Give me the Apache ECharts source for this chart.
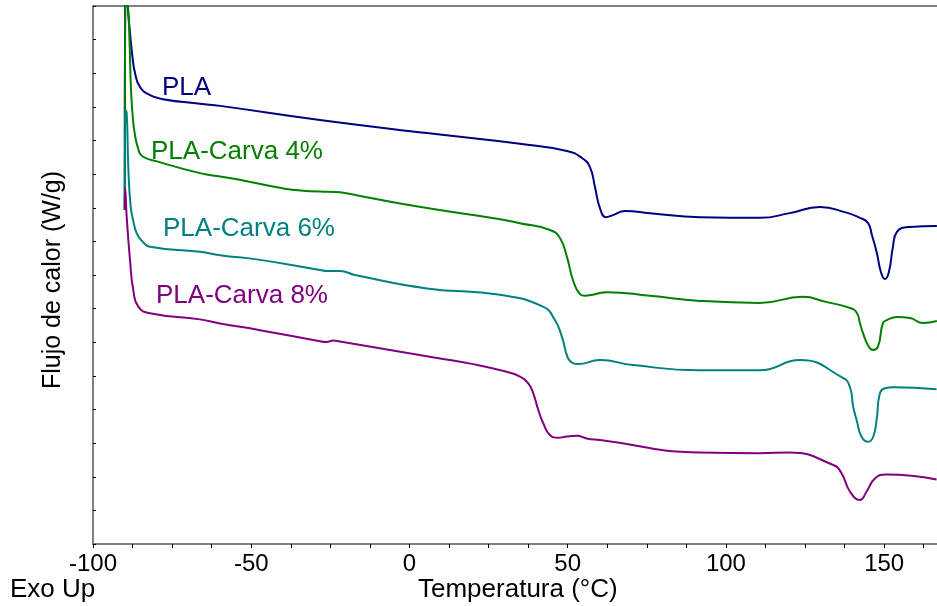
<!DOCTYPE html>
<html>
<head>
<meta charset="utf-8">
<script src="https://cdn.jsdelivr.net/npm/echarts@6/dist/echarts.min.js"></script>
<style>
html,body{margin:0;padding:0;background:#fff;}
#c{width:937px;height:606px;}
</style>
</head>
<body>
<div id="c"></div>
<script>
// Temperature (°C) vs heat flow (arbitrary offset units, W/g)
const seriesNames = ['PLA', 'PLA-Carva 4%', 'PLA-Carva 6%', 'PLA-Carva 8%'];
const seriesColors = ['#000080', '#008000', '#008080', '#800080'];

const plaData = [
  [-89.95, 9.93], [-89.80, 17.0], [-88.94, 15.88], [-88.31, 15.20], [-87.52, 14.48],
  [-86.73, 14.01], [-85.15, 13.59], [-81.99, 13.35], [-77.88, 13.23], [-66.19, 13.09],
  [-59.87, 13.03], [-28.28, 12.61], [5.53, 12.22], [34.91, 11.90], [49.76, 11.69],
  [54.50, 11.48], [57.03, 11.21], [58.61, 10.62], [60.19, 9.99], [62.09, 9.72],
  [64.30, 9.78], [68.09, 9.90], [75.99, 9.84], [91.78, 9.72], [110.74, 9.70],
  [120.22, 9.84], [129.70, 10.02], [137.60, 9.87], [142.34, 9.70], [144.87, 9.55],
  [146.13, 9.19], [147.71, 8.65], [148.97, 8.09], [150.24, 7.88], [151.50, 8.09],
  [152.76, 8.83], [154.03, 9.28], [158.14, 9.43], [166.67, 9.46]
];

const carva4Data = [
  [-89.95, 9.93], [-89.79, 17.0], [-88.94, 16.0], [-88.47, 14.99], [-87.99, 13.50],
  [-87.36, 12.61], [-86.73, 12.16], [-85.78, 11.78], [-84.52, 11.54], [-79.78, 11.38],
  [-66.19, 11.03], [-59.87, 10.93], [-28.28, 10.48], [-23.54, 10.47], [-20.38, 10.44],
  [-15.64, 10.35], [5.53, 9.99], [28.59, 9.66], [34.91, 9.54], [44.39, 9.34],
  [47.55, 9.10], [49.76, 8.54], [51.66, 7.85], [53.87, 7.43], [55.45, 7.38],
  [58.61, 7.43], [62.40, 7.49], [75.99, 7.38], [91.78, 7.23], [110.74, 7.17],
  [124.33, 7.35], [131.60, 7.20], [139.18, 7.02], [141.39, 6.87], [142.34, 6.57],
  [143.29, 6.28], [144.87, 5.92], [146.45, 5.77], [148.03, 5.86], [149.61, 6.57],
  [150.87, 6.66], [154.03, 6.75], [158.14, 6.72], [162.24, 6.57], [166.67, 6.63]
];

const carva6Data = [
  [-89.95, 9.93], [-89.79, 12.91], [-89.35, 12.82], [-88.85, 11.22], [-88.09, 10.03],
  [-87.20, 9.58], [-86.19, 9.24], [-84.52, 9.01], [-81.99, 8.84], [-66.19, 8.69],
  [-59.87, 8.59], [-47.24, 8.45], [-28.28, 8.15], [-26.07, 8.12], [-21.96, 8.12],
  [-17.22, 8.00], [5.53, 7.60], [28.59, 7.41], [42.18, 7.06], [45.97, 6.66],
  [48.18, 6.16], [50.08, 5.53], [51.66, 5.38], [53.24, 5.35], [60.19, 5.47],
  [70.62, 5.32], [91.78, 5.17], [110.74, 5.17], [123.38, 5.47], [136.97, 4.94],
  [139.18, 4.67], [140.22, 4.08], [141.29, 3.69], [142.87, 3.19], [144.96, 3.04],
  [146.54, 3.19], [147.61, 3.69], [148.66, 4.48], [150.24, 4.63], [152.86, 4.66],
  [166.57, 4.60]
];

const carva8Data = [
  [-89.95, 9.93], [-89.83, 10.59], [-89.35, 9.73], [-88.31, 8.45], [-87.27, 7.55],
  [-85.69, 7.06], [-81.99, 6.86], [-66.19, 6.68], [-59.87, 6.56], [-47.24, 6.36],
  [-28.28, 6.03], [-26.16, 6.01], [-24.08, 6.05], [-21.96, 6.02],
  [9.64, 5.52], [20.16, 5.35], [30.71, 5.12], [34.91, 4.98], [37.54, 4.78],
  [39.12, 4.48], [40.70, 3.99], [42.28, 3.59], [44.39, 3.24], [47.02, 3.16],
  [49.76, 3.20], [52.83, 3.22], [55.99, 3.14], [60.19, 3.09],
  [91.78, 2.72], [110.74, 2.70], [120.22, 2.72], [133.90, 2.35],
  [136.56, 2.10], [139.18, 1.56], [142.34, 1.31], [144.46, 1.56], [147.08, 1.95],
  [150.78, 2.07], [166.57, 1.92]
];

const xTickLabels = [-100, -50, 0, 50, 100, 150];

const allData = [plaData, carva4Data, carva6Data, carva8Data];
const chart = echarts.init(document.getElementById('c'), null, {renderer: 'canvas'});
const axisGray = '#808080';
const font = 'Liberation Sans, Arial, sans-serif';

const option = {
  animation: false,
  backgroundColor: '#fff',
  grid: {left: 93, right: 0, top: 6, bottom: 62, containLabel: false},
  xAxis: [{
    type: 'value', min: -100, max: 166.7, interval: 12.5,
    axisLine: {show: true, onZero: false, lineStyle: {color: axisGray, width: 2}},
    axisTick: {show: true, inside: false, length: 4, lineStyle: {color: '#000', width: 1}},
    axisLabel: {
      show: true, margin: 8, color: '#000', fontFamily: font, fontSize: 24,
      showMaxLabel: false,
      formatter: function (v) { return xTickLabels.indexOf(v) >= 0 ? String(v) : ''; }
    },
    splitLine: {show: false}
  }, {
    type: 'value', position: 'top', min: -100, max: 166.7,
    axisLine: {show: true, onZero: false, lineStyle: {color: axisGray, width: 2}},
    axisTick: {show: false}, axisLabel: {show: false}, splitLine: {show: false}
  }],
  yAxis: {
    type: 'value', min: 0, max: 16, interval: 1,
    axisLine: {show: true, onZero: false, lineStyle: {color: axisGray, width: 2}},
    axisTick: {show: true, inside: true, length: 3, lineStyle: {color: '#000', width: 1}},
    axisLabel: {show: false},
    splitLine: {show: false}
  },
  series: allData.map(function (d, i) {
    return {
      name: seriesNames[i], type: 'line', data: d, xAxisIndex: 0,
      showSymbol: false, symbol: 'none', smooth: 0.5,
      clip: true,
      lineStyle: {color: seriesColors[i], width: 2},
      itemStyle: {color: seriesColors[i]}
    };
  }),
  graphic: [
    {type: 'text', left: 162, top: 75, style: {text: seriesNames[0], fill: seriesColors[0], font: '26px ' + font}},
    {type: 'text', left: 151, top: 139, style: {text: seriesNames[1], fill: seriesColors[1], font: '26px ' + font}},
    {type: 'text', left: 163, top: 216, style: {text: seriesNames[2], fill: seriesColors[2], font: '26px ' + font}},
    {type: 'text', left: 156, top: 283, style: {text: seriesNames[3], fill: seriesColors[3], font: '26px ' + font}},
    {type: 'text', left: 10, top: 577, style: {text: 'Exo Up', fill: '#000', font: '26px ' + font}},
    {type: 'text', left: 418, top: 577, style: {text: 'Temperatura (°C)', fill: '#000', font: '26px ' + font}},
    {type: 'text', x: 53, y: 280, rotation: Math.PI / 2,
     style: {text: 'Flujo de calor (W/g)', fill: '#000', font: '25px ' + font, align: 'center', verticalAlign: 'middle'}}
  ]
};
chart.setOption(option);
</script>
</body>
</html>
